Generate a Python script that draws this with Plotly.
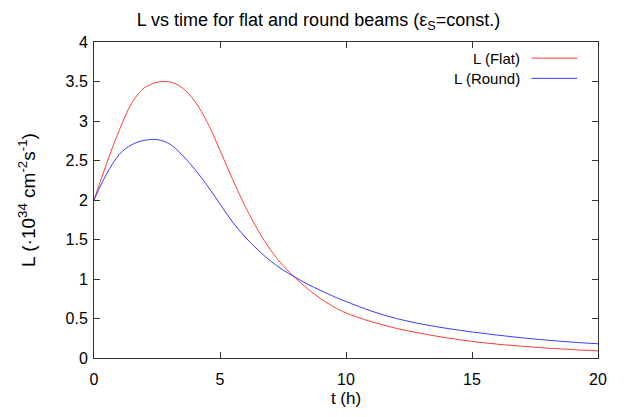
import plotly.graph_objects as go

t = [0, 0.25, 0.5, 0.75, 1, 1.25, 1.5, 1.75, 2, 2.5, 3, 3.5, 4, 4.5, 5, 5.5, 6, 6.5,
     7, 7.5, 8, 8.5, 9, 9.5, 10, 11, 12, 13, 14, 15, 16, 17, 18, 19, 20]
L_flat = [2.00, 2.235, 2.46, 2.68, 2.88, 3.07, 3.23, 3.34, 3.42, 3.49, 3.495, 3.42,
          3.25, 2.98, 2.63, 2.26, 1.92, 1.62, 1.37, 1.17, 1.01, 0.87, 0.75, 0.65,
          0.57, 0.46, 0.375, 0.31, 0.255, 0.21, 0.175, 0.148, 0.125, 0.106, 0.09]
L_round = [2.00, 2.175, 2.33, 2.465, 2.575, 2.65, 2.70, 2.735, 2.755, 2.765, 2.71,
           2.57, 2.39, 2.18, 1.95, 1.72, 1.53, 1.37, 1.23, 1.115, 1.02, 0.93, 0.855,
           0.78, 0.715, 0.595, 0.50, 0.43, 0.375, 0.33, 0.29, 0.255, 0.225, 0.20, 0.18]

x_ticks = [0, 5, 10, 15, 20]
y_ticks = [0, 0.5, 1, 1.5, 2, 2.5, 3, 3.5, 4]
y_tick_labels = ["0", "0.5", "1", "1.5", "2", "2.5", "3", "3.5", "4"]
series_names = ["L (Flat)", "L (Round)"]
series_colors = ["rgb(255,60,60)", "rgb(60,60,255)"]

FONT = "Liberation Sans, Arial, sans-serif"

fig = go.Figure()
for name, vals, col in zip(series_names, [L_flat, L_round], series_colors):
    fig.add_trace(go.Scatter(x=t, y=vals, mode="lines", name=name,
                             line=dict(color=col, width=1, shape="spline", smoothing=1.0),
                             showlegend=False))

axis_common = dict(showline=True, linecolor="#333333", linewidth=1, mirror="ticks",
                   ticks="inside", ticklen=6, tickcolor="#333333", showgrid=False,
                   zeroline=False, tickfont=dict(family=FONT, size=16, color="black"))

fig.update_layout(
    width=631, height=417,
    margin=dict(l=86, r=41, t=34, b=67),
    paper_bgcolor="white", plot_bgcolor="white",
    font=dict(family=FONT, color="black"),
    title=dict(text="L vs time for flat and round beams (ε<sub>S</sub>=const.)",
               x=0.492, xanchor="center", y=0.972, yanchor="middle",
               font=dict(family=FONT, size=18, color="black")),
    xaxis=dict(range=[0, 20], tickvals=x_ticks, ticktext=[str(v) for v in x_ticks],
               ticklabelstandoff=7,
               title=dict(text="t (h)", font=dict(family=FONT, size=17), standoff=4),
               **axis_common),
    yaxis=dict(range=[0, 4], tickvals=y_ticks, ticktext=y_tick_labels,
               ticklabelstandoff=2,
               title=dict(text="L (·10<sup>34</sup> cm<sup>-2</sup>s<sup>-1</sup>)",
                          font=dict(family=FONT, size=19), standoff=24),
               **axis_common),
)

# manual gnuplot-style legend: text right-aligned, sample line to the right
legend_y = [0.949, 0.885]
for name, col, yy in zip(series_names, series_colors, legend_y):
    fig.add_annotation(xref="paper", yref="paper", x=0.85, y=yy, text=name,
                       showarrow=False, xanchor="right", yanchor="middle",
                       font=dict(family=FONT, size=15, color="black"))
    fig.add_shape(type="line", xref="paper", yref="paper", x0=0.868, x1=0.959,
                  y0=yy, y1=yy, line=dict(color=col, width=1))

fig.write_html("out.html")
